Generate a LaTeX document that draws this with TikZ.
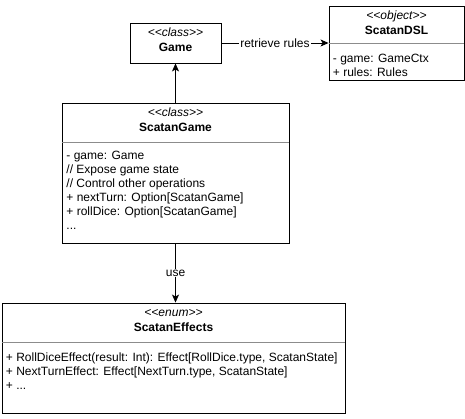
\documentclass[tikz,border=0pt]{standalone}
\usepackage{fontspec}
\setmainfont{Liberation Sans}[Ligatures=TeXOff]
\usetikzlibrary{arrows.meta}

\begin{document}
\begin{tikzpicture}[x=1pt, y=-1pt, line width=0.9pt, font=\fontsize{12}{14}\selectfont,
		box/.style={shape=rectangle, draw},
		divider/.style={draw=black!45},
		member/.style={anchor=base west, inner sep=0pt},
		head/.style={anchor=base, inner sep=0pt},
		link/.style={-{Stealth[length=8pt, width=7pt, inset=2pt]}}]
			\useasboundingbox (0, 0) rectangle (465, 419);
			\node[box, minimum width=91pt, minimum height=40pt](N1) at (175.5, 43){};
			\node[head](N1a) at (175.5, 37){\itshape <<class>>};
			\node[head](N1b) at (175.5, 52){\bfseries Game};
			\node[box, minimum width=135pt, minimum height=74pt](N2) at (396.5, 43){};
			\node[head](N2a) at (396.5, 19.5){\itshape <<object>>};
			\node[head](N2b) at (396.5, 34.5){\bfseries ScatanDSL};
			\draw[divider] (N2.west |- 0, 43) -- (N2.east |- 0, 43);
			\node[member](N2c) at (332.5, 63){- game: GameCtx};
			\node[member](N2d) at (332.5, 77){+ rules: Rules};
			\node[box, minimum width=227pt, minimum height=140pt](N3) at (175.5, 173){};
			\node[head](N3a) at (175.5, 116.5){\itshape <<class>>};
			\node[head](N3b) at (175.5, 131.5){\bfseries ScatanGame};
			\draw[divider] (N3.west |- 0, 142) -- (N3.east |- 0, 142);
			\node[member](N3c) at (66, 159.5){- game: Game};
			\node[member](N3d) at (66, 173.5){// Expose game state};
			\node[member](N3e) at (66, 187.5){// Control other operations};
			\node[member](N3f) at (66, 201.5){+ nextTurn: Option[ScatanGame]};
			\node[member](N3g) at (66, 215.5){+ rollDice: Option[ScatanGame]};
			\node[member](N3h) at (66, 229.5){...};
			\node[box, minimum width=343pt, minimum height=110pt](N4) at (173.5, 358){};
			\node[head](N4a) at (173.5, 316.5){\itshape <<enum>>};
			\node[head](N4b) at (173.5, 331.5){\bfseries ScatanEffects};
			\draw[divider] (N4.west |- 0, 342) -- (N4.east |- 0, 342);
			\node[member](N4c) at (5.5, 361){+ RollDiceEffect(result: Int): Effect[RollDice.type, ScatanState]};
			\node[member](N4d) at (5.5, 375){+ NextTurnEffect: Effect[NextTurn.type, ScatanState]};
			\node[member](N4e) at (5.5, 389){+ ...};
			\draw[link] (N3) -- (N1);
			\draw[link] (N1) -- node[fill=white, inner sep=1pt](L1){retrieve rules} (N2);
			\draw[link] (N3.south) -- node[fill=white, inner sep=1pt](L2){use} (N3.south |- N4.north);
		\end{tikzpicture}
\end{document}
